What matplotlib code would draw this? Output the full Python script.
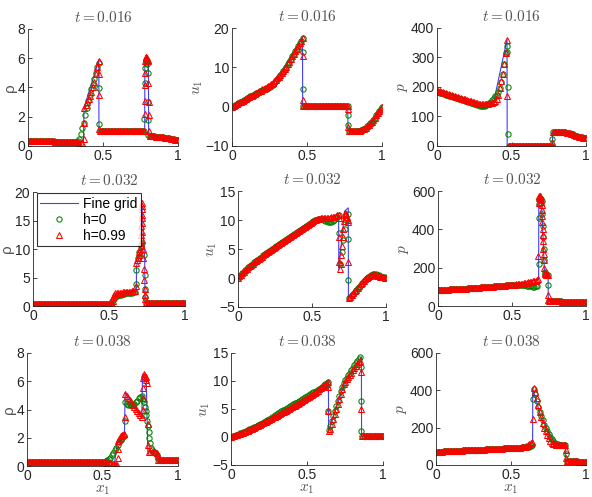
import numpy as np
import matplotlib
matplotlib.use("Agg")
import matplotlib.pyplot as plt

plt.rcParams['font.family'] = ['Liberation Sans', 'DejaVu Sans']
plt.rcParams['mathtext.fontset'] = 'cm'

# each marker series: list of (x_start, x_end, values) -> values evenly spaced in [x_start, x_end]
# fine grid: breakpoints of the reference solution

# ---------------- rho, t = 0.016 ----------------
rho1_fine_x = [0, 0.33, 0.37, 0.373, 0.47, 0.472, 0.473, 0.778, 0.779, 0.803, 0.804, 0.87, 1.0]
rho1_fine_y = [0.34, 0.28, 0.25, 2.6, 5.8, 5.9, 1.0, 1.0, 6.0, 6.0, 0.65, 0.62, 0.4]
rho1_h0 = [
    (0.00, 0.32, [0.34, 0.34, 0.34, 0.34, 0.34, 0.33, 0.33, 0.33, 0.33, 0.33, 0.32, 0.32, 0.32, 0.32, 0.31, 0.31,
                  0.31, 0.31, 0.30, 0.30, 0.30, 0.30, 0.29, 0.29, 0.29, 0.29, 0.28, 0.28, 0.28, 0.28, 0.28, 0.28, 0.29]),
    (0.33, 0.47, [0.35, 0.5, 0.8, 1.2, 1.6, 2.1, 2.6, 3.1, 3.5, 3.9, 4.2, 4.6, 5.0, 5.4, 5.7]),
    (0.474, 0.476, [3.95, 1.5]),
    (0.48, 0.77, [1.0, 1.0, 1.0, 1.0, 1.0, 1.0, 1.0, 1.0, 1.0, 1.0, 1.0, 1.0, 1.0, 1.0, 1.0,
                  1.0, 1.0, 1.0, 1.0, 1.0, 1.0, 1.0, 1.0, 1.0, 1.0, 1.0, 1.0, 1.0, 1.0, 1.0]),
    (0.775, 0.779, [1.85, 4.3, 5.3]),
    (0.785, 0.795, [5.7, 5.8, 5.6]),
    (0.800, 0.803, [5.0, 3.0, 1.8, 0.75]),
    (0.81, 1.00, [0.65, 0.65, 0.65, 0.65, 0.64, 0.64, 0.63, 0.62, 0.61, 0.60, 0.58, 0.56, 0.54, 0.52,
                  0.50, 0.48, 0.46, 0.44, 0.42, 0.40]),
]
rho1_h99 = [
    (0.00, 0.36, [0.34, 0.34, 0.34, 0.34, 0.34, 0.33, 0.33, 0.33, 0.33, 0.33, 0.32, 0.32, 0.32, 0.32, 0.31, 0.31,
                  0.31, 0.31, 0.30, 0.30, 0.30, 0.30, 0.29, 0.29, 0.29, 0.29, 0.28, 0.28, 0.28, 0.28, 0.27, 0.27,
                  0.26, 0.25, 0.22, 0.20, 0.20]),
    (0.370, 0.372, [0.5, 1.6]),
    (0.375, 0.47, [2.6, 2.8, 3.0, 3.2, 3.4, 3.7, 4.0, 4.4, 4.9, 5.4, 5.8]),
    (0.474, 0.476, [4.9, 3.5, 1.15]),
    (0.48, 0.775, [1.0, 1.0, 1.0, 1.0, 1.0, 1.0, 1.0, 1.0, 1.0, 1.0, 1.0, 1.0, 1.0, 1.0, 1.0,
                   1.0, 1.0, 1.0, 1.0, 1.0, 1.0, 1.0, 1.0, 1.0, 1.0, 1.0, 1.0, 1.0, 1.0, 1.0]),
    (0.777, 0.780, [2.2, 3.1, 4.2, 5.0]),
    (0.782, 0.800, [5.8, 6.0, 6.1, 6.1, 6.0, 5.9, 5.9, 5.8]),
    (0.802, 0.806, [4.3, 3.0, 2.1, 1.0]),
    (0.81, 1.00, [0.65, 0.65, 0.65, 0.65, 0.64, 0.64, 0.63, 0.62, 0.61, 0.60, 0.58, 0.56, 0.54, 0.52,
                  0.50, 0.48, 0.46, 0.44, 0.42, 0.40]),
]

# ---------------- u1, t = 0.016 ----------------
u1_fine_x = [0, 0.2, 0.3, 0.47, 0.471, 0.772, 0.773, 0.85, 0.9, 0.95, 1.0]
u1_fine_y = [0, 4.3, 7.0, 17.6, 0, 0, -6.2, -6.2, -5.2, -3.4, 0]
u1_h0 = [
    (0.00, 0.47, [0, 0.25, 0.5, 0.7, 0.9, 1.1, 1.3, 1.5, 1.7, 1.9, 2.1, 2.35, 2.6, 2.8, 3.0, 3.2, 3.4, 3.6, 3.8,
                  4.0, 4.2, 4.3, 4.5, 4.6, 4.8, 5.0, 5.3, 5.6, 6.1, 6.6, 7.1, 7.6, 8.1, 8.6, 9.1, 9.6, 10.2,
                  10.8, 11.4, 12.1, 12.8, 13.4, 14.1, 14.7, 15.4, 16.1, 16.8, 17.4]),
    (0.471, 0.472, [13.8, 4.6]),
    (0.475, 0.77, [0.05, 0.05, 0.05, 0.05, 0.05, 0.05, 0.05, 0.05, 0.05, 0.05, 0.05, 0.05, 0.05, 0.05, 0.05,
                   0.05, 0.05, 0.05, 0.05, 0.05, 0.05, 0.05, 0.05, 0.05, 0.05, 0.05, 0.05, 0.05, 0.05, 0.05]),
    (0.772, 0.773, [-2.1, -4.6]),
    (0.78, 1.00, [-6.2, -6.2, -6.2, -6.2, -6.2, -6.2, -6.2, -6.1, -6.0, -5.8, -5.6, -5.3, -5.0, -4.6, -4.2,
                  -3.8, -3.3, -2.8, -2.2, -1.6, -1.0, -0.5, -0.1]),
]
u1_h99 = [
    (0.00, 0.47, [0, 0.25, 0.5, 0.7, 0.9, 1.1, 1.3, 1.5, 1.7, 1.9, 2.1, 2.35, 2.6, 2.8, 3.0, 3.2, 3.5, 3.7, 3.9,
                  4.1, 4.4, 4.6, 4.8, 5.0, 5.3, 5.5, 5.8, 6.1, 6.4, 6.8, 7.2, 7.6, 8.1, 8.6, 9.1, 9.6, 10.2,
                  10.8, 11.4, 12.1, 12.8, 13.4, 14.1, 14.7, 15.4, 16.1, 16.8, 17.5]),
    (0.471, 0.472, [12.8, 1.8]),
    (0.475, 0.77, [0.05, 0.05, 0.05, 0.05, 0.05, 0.05, 0.05, 0.05, 0.05, 0.05, 0.05, 0.05, 0.05, 0.05, 0.05,
                   0.05, 0.05, 0.05, 0.05, 0.05, 0.05, 0.05, 0.05, 0.05, 0.05, 0.05, 0.05, 0.05, 0.05, 0.05]),
    (0.772, 0.773, [-0.5, -5.2]),
    (0.78, 1.00, [-6.2, -6.2, -6.2, -6.2, -6.2, -6.2, -6.2, -6.1, -6.0, -5.8, -5.6, -5.3, -5.0, -4.6, -4.2,
                  -3.8, -3.3, -2.8, -2.2, -1.6, -1.0, -0.5, -0.1]),
]

# ---------------- p, t = 0.016 ----------------
p1_fine_x = [0, 0.3, 0.38, 0.47, 0.471, 0.775, 0.776, 0.86, 1.0]
p1_fine_y = [188, 141, 148, 362, 0.5, 0.5, 47, 46, 26]
p1_h0 = [
    (0.00, 0.29, [184, 182, 181, 179, 178, 176, 174, 173, 171, 170, 168, 166, 165, 163, 162, 160, 158, 157, 155,
                  154, 152, 150, 149, 147, 146, 144, 142, 140, 138, 136]),
    (0.30, 0.47, [135, 135, 136, 138, 141, 145, 150, 156, 162, 168, 174, 182, 195, 217, 245, 278, 315, 340]),
    (0.473, 0.474, [320, 200, 40]),
    (0.48, 0.77, [0.5, 0.5, 0.5, 0.5, 0.5, 0.5, 0.5, 0.5, 0.5, 0.5, 0.5, 0.5, 0.5, 0.5, 0.5,
                  0.5, 0.5, 0.5, 0.5, 0.5, 0.5, 0.5, 0.5, 0.5, 0.5, 0.5, 0.5, 0.5, 0.5, 0.5]),
    (0.775, 0.775, [25]),
    (0.78, 1.00, [47, 48, 48, 48, 47, 47, 47, 46, 46, 45, 44, 43, 41, 39, 37, 35, 33, 31, 30, 29, 28, 27, 26]),
]
p1_h99 = [
    (0.00, 0.47, [188, 186, 185, 183, 182, 180, 178, 177, 175, 174, 172, 170, 169, 167, 166, 164, 162, 161, 159,
                  158, 156, 154, 153, 151, 150, 148, 146, 145, 144, 143, 143, 143, 143, 144, 144, 145, 146, 147,
                  149, 152, 160, 172, 195, 220, 245, 278, 315, 358]),
    (0.473, 0.473, [170]),
    (0.48, 0.77, [0.5, 0.5, 0.5, 0.5, 0.5, 0.5, 0.5, 0.5, 0.5, 0.5, 0.5, 0.5, 0.5, 0.5, 0.5,
                  0.5, 0.5, 0.5, 0.5, 0.5, 0.5, 0.5, 0.5, 0.5, 0.5, 0.5, 0.5, 0.5, 0.5, 0.5]),
    (0.775, 0.775, [12]),
    (0.78, 1.00, [47, 48, 48, 48, 47, 47, 47, 46, 46, 45, 44, 43, 41, 39, 37, 35, 33, 31, 30, 29, 28, 27, 26]),
]

# ---------------- rho, t = 0.032 ----------------
rho2_fine_x = [0, 0.53, 0.531, 0.68, 0.681, 0.71, 0.715, 0.735, 0.737, 1.0]
rho2_fine_y = [0.3, 0.3, 2.2, 2.6, 7.0, 10.0, 18.5, 8.0, 0.5, 0.45]
rho2_h0 = [
    (0.00, 0.49, [0.3, 0.3, 0.3, 0.3, 0.3, 0.3, 0.3, 0.3, 0.3, 0.3, 0.3, 0.3, 0.3, 0.3, 0.3, 0.3, 0.3,
                  0.3, 0.3, 0.3, 0.3, 0.3, 0.3, 0.3, 0.3, 0.3, 0.3, 0.3, 0.3, 0.3, 0.3, 0.3, 0.3, 0.3,
                  0.3, 0.3, 0.3, 0.3, 0.3, 0.3, 0.3, 0.3, 0.3, 0.3, 0.3, 0.3, 0.3, 0.3, 0.3, 0.3]),
    (0.50, 0.56, [0.4, 0.6, 0.9, 1.3, 1.6, 1.8, 1.9]),
    (0.57, 0.67, [2.0, 2.0, 2.1, 2.1, 2.2, 2.2, 2.2, 2.3, 2.3, 2.4, 2.5]),
    (0.68, 0.68, [3.8, 6.3]),
    (0.69, 0.73, [8.5, 9.5, 10.5, 11.0, 9.0]),
    (0.737, 0.737, [5.5, 3.0, 1.5]),
    (0.745, 1.00, [0.55, 0.55, 0.55, 0.55, 0.55, 0.55, 0.55, 0.55, 0.55, 0.5, 0.5, 0.5, 0.5,
                   0.5, 0.5, 0.5, 0.5, 0.5, 0.5, 0.5, 0.5, 0.5, 0.45, 0.45, 0.45, 0.45]),
]
rho2_h99 = [
    (0.00, 0.52, [0.3, 0.3, 0.3, 0.3, 0.3, 0.3, 0.3, 0.3, 0.3, 0.3, 0.3, 0.3, 0.3, 0.3, 0.3, 0.3, 0.3, 0.3,
                  0.3, 0.3, 0.3, 0.3, 0.3, 0.3, 0.3, 0.3, 0.3, 0.3, 0.3, 0.3, 0.3, 0.3, 0.3, 0.3, 0.3, 0.3,
                  0.3, 0.3, 0.3, 0.3, 0.3, 0.3, 0.3, 0.3, 0.3, 0.3, 0.3, 0.3, 0.3, 0.3, 0.3, 0.3, 0.3]),
    (0.525, 0.525, [0.8, 1.6]),
    (0.53, 0.67, [2.0, 2.2, 2.3, 2.3, 2.3, 2.3, 2.4, 2.4, 2.4, 2.4, 2.5, 2.5, 2.6, 2.6, 2.7]),
    (0.675, 0.675, [3.5]),
    (0.68, 0.71, [7.5, 8.0, 8.5, 9.0, 9.5, 10.0, 10.5]),
    (0.712, 0.72, [11.0, 12.5, 14.0, 15.5, 17.0, 18.0, 17.5, 16.0, 14.5, 13.0, 11.5]),
    (0.722, 0.74, [10.0, 8.5, 6.5, 4.5, 3.0, 2.0, 1.2]),
    (0.745, 1.00, [0.55, 0.55, 0.55, 0.55, 0.55, 0.55, 0.55, 0.55, 0.55, 0.5, 0.5, 0.5, 0.5,
                   0.5, 0.5, 0.5, 0.5, 0.5, 0.5, 0.5, 0.5, 0.5, 0.45, 0.45, 0.45, 0.45]),
]

# ---------------- u1, t = 0.032 ----------------
u2_fine_x = [0, 0.5, 0.6, 0.68, 0.681, 0.72, 0.745, 0.746, 0.8, 0.9, 1.0]
u2_fine_y = [0, 9.7, 10.35, 10.9, 1.5, 11.5, 12.1, -3.45, -2.0, 0.5, 0]
u2_h0 = [
    (0.00, 0.60, [0, 0.3, 0.6, 0.85, 1.1, 1.35, 1.6, 1.85, 2.05, 2.3, 2.5, 2.7, 2.9, 3.1, 3.3, 3.5, 3.7, 3.9,
                  4.1, 4.3, 4.5, 4.7, 4.85, 5.0, 5.2, 5.35, 5.5, 5.7, 5.85, 6.0, 6.2, 6.4, 6.55, 6.75, 6.9,
                  7.1, 7.3, 7.45, 7.65, 7.8, 8.0, 8.15, 8.3, 8.5, 8.65, 8.8, 9.0, 9.15, 9.3, 9.5, 9.65, 9.8,
                  9.95, 10.05, 10.15, 10.2, 10.2, 10.1, 10.0, 9.9, 9.8]),
    (0.61, 0.68, [9.7, 9.7, 9.7, 9.8, 10.0, 10.3, 10.6, 10.8]),
    (0.683, 0.683, [7.7]),
    (0.69, 0.74, [2.5, 4.5, 6.5, 8.5, 10.0, 11.0]),
    (0.745, 0.745, [6.8, -0.3]),
    (0.75, 1.00, [-3.5, -3.3, -3.0, -2.7, -2.4, -2.1, -1.8, -1.5, -1.2, -0.9, -0.6, -0.3, -0.05, 0.2, 0.4,
                  0.55, 0.65, 0.7, 0.65, 0.55, 0.45, 0.35, 0.25, 0.15, 0.1, 0.05]),
]
u2_h99 = [
    (0.00, 0.68, [0, 0.3, 0.6, 0.85, 1.1, 1.35, 1.6, 1.85, 2.05, 2.3, 2.5, 2.7, 2.9, 3.1, 3.3, 3.5, 3.7, 3.9,
                  4.1, 4.3, 4.5, 4.7, 4.85, 5.0, 5.2, 5.35, 5.5, 5.7, 5.85, 6.0, 6.2, 6.4, 6.55, 6.75, 6.9,
                  7.1, 7.3, 7.45, 7.65, 7.8, 8.0, 8.15, 8.3, 8.5, 8.65, 8.8, 9.0, 9.15, 9.3, 9.5, 9.65, 9.8,
                  9.95, 10.05, 10.15, 10.2, 10.3, 10.3, 10.35, 10.35, 10.35, 10.35, 10.4, 10.45, 10.5, 10.6,
                  10.7, 10.8, 10.9]),
    (0.683, 0.683, [10.3, 7.0, 2.8]),
    (0.688, 0.722, [1.6, 2.5, 4.0, 5.5, 7.0, 8.5, 9.8, 10.8]),
    (0.725, 0.74, [11.2, 11.0, 10.5, 10.0]),
    (0.745, 0.745, [9.7, 2.8]),
    (0.75, 1.00, [-3.4, -3.2, -2.9, -2.6, -2.3, -2.0, -1.7, -1.4, -1.1, -0.8, -0.5, -0.25, 0.0, 0.2, 0.35,
                  0.45, 0.5, 0.5, 0.45, 0.4, 0.3, 0.2, 0.15, 0.1, 0.05, 0.0]),
]

# ---------------- p, t = 0.032 ----------------
p2_fine_x = [0, 0.5, 0.68, 0.681, 0.70, 0.72, 0.744, 0.745, 1.0]
p2_fine_y = [84, 110, 140, 575, 540, 165, 160, 26, 19]
p2_h0 = [
    (0.00, 0.67, [84, 84, 85, 85, 85, 86, 86, 86, 87, 87, 88, 88, 88, 89, 89, 90, 90, 90, 91, 91, 92, 92, 93, 93,
                  94, 95, 95, 96, 96, 97, 97, 98, 98, 99, 99, 100, 101, 101, 102, 102, 103, 104, 104, 105, 105,
                  106, 107, 107, 108, 109, 110, 110, 111, 111, 112, 112, 111, 110, 108, 107, 106, 104, 103, 102,
                  101, 101, 102, 105]),
    (0.68, 0.68, [220, 460, 530]),
    (0.685, 0.70, [560, 565, 560, 550]),
    (0.705, 0.72, [480, 420, 360, 300, 240, 180]),
    (0.725, 0.74, [165, 162, 160]),
    (0.745, 0.745, [110]),
    (0.75, 1.00, [26, 26, 25, 25, 25, 25, 24, 24, 24, 23, 23, 23, 22, 22, 22, 22, 21, 21, 21, 21, 20, 20, 20,
                  20, 19, 19]),
]
p2_h99 = [
    (0.00, 0.67, [84, 84, 85, 85, 85, 86, 86, 86, 87, 87, 88, 88, 88, 89, 89, 90, 90, 90, 91, 91, 92, 92, 93, 93,
                  94, 95, 95, 96, 96, 97, 97, 98, 98, 99, 99, 100, 101, 101, 102, 102, 103, 104, 104, 105, 105,
                  106, 107, 107, 108, 109, 110, 111, 112, 113, 114, 115, 116, 117, 119, 120, 122, 123, 125, 126,
                  128, 130, 132, 136]),
    (0.675, 0.675, [140, 260]),
    (0.68, 0.70, [540, 565, 575, 575, 572, 568, 560, 545, 525]),
    (0.702, 0.72, [500, 470, 440, 400, 370, 340, 300, 270, 240, 200, 170]),
    (0.725, 0.742, [165, 163, 162, 160]),
    (0.745, 0.745, [60, 30]),
    (0.75, 1.00, [26, 26, 25, 25, 25, 25, 24, 24, 24, 23, 23, 23, 22, 22, 22, 22, 21, 21, 21, 21, 20, 20, 20,
                  20, 19, 19]),
]

# ---------------- rho, t = 0.038 ----------------
rho3_fine_x = [0, 0.58, 0.6, 0.645, 0.65, 0.76, 0.765, 0.79, 0.8, 0.865, 0.87, 1.0]
rho3_fine_y = [0.25, 0.25, 1.8, 2.2, 5.2, 3.4, 6.5, 6.0, 1.0, 1.0, 0.4, 0.4]
rho3_h0 = [
    (0.00, 0.50, [0.25, 0.25, 0.25, 0.25, 0.25, 0.25, 0.25, 0.25, 0.25, 0.25, 0.25, 0.25, 0.25, 0.25, 0.25,
                  0.25, 0.25, 0.25, 0.25, 0.25, 0.25, 0.25, 0.25, 0.25, 0.25, 0.25, 0.25, 0.25, 0.25, 0.25,
                  0.25, 0.25, 0.25, 0.25, 0.25, 0.25, 0.25, 0.25, 0.25, 0.25, 0.25, 0.25, 0.25, 0.25, 0.25,
                  0.25, 0.25, 0.25, 0.25, 0.25, 0.25]),
    (0.51, 0.64, [0.3, 0.35, 0.4, 0.5, 0.6, 0.75, 0.9, 1.1, 1.3, 1.5, 1.7, 1.85, 2.0, 2.1]),
    (0.65, 0.65, [3.2, 4.5]),
    (0.66, 0.76, [4.4, 4.3, 4.3, 4.3, 4.3, 4.4, 4.5, 4.6, 4.8, 4.9, 4.95]),
    (0.77, 0.82, [4.7, 4.5, 4.2, 3.9, 3.6, 3.2, 2.8, 2.4, 2.0, 1.6, 1.3]),
    (0.83, 0.86, [1.1, 1.0, 0.95, 0.8]),
    (0.87, 1.00, [0.5, 0.4, 0.4, 0.4, 0.4, 0.4, 0.4, 0.4, 0.4, 0.4, 0.4, 0.4, 0.4, 0.4]),
]
rho3_h99 = [
    (0.00, 0.57, [0.25, 0.25, 0.25, 0.25, 0.25, 0.25, 0.25, 0.25, 0.25, 0.25, 0.25, 0.25, 0.25, 0.25, 0.25,
                  0.25, 0.25, 0.25, 0.25, 0.25, 0.25, 0.25, 0.25, 0.25, 0.25, 0.25, 0.25, 0.25, 0.25, 0.25,
                  0.25, 0.25, 0.25, 0.25, 0.25, 0.25, 0.25, 0.25, 0.25, 0.25, 0.25, 0.25, 0.25, 0.25, 0.25,
                  0.25, 0.25, 0.25, 0.25, 0.25, 0.25, 0.25, 0.25, 0.22, 0.2, 0.18, 0.16, 0.15]),
    (0.575, 0.595, [0.12, 0.08, 0.05, 0.1]),
    (0.60, 0.60, [0.6, 1.2]),
    (0.605, 0.645, [1.8, 1.9, 2.0, 2.1, 2.15, 2.2, 2.2, 2.25, 2.3]),
    (0.65, 0.65, [3.5]),
    (0.652, 0.76, [5.1, 4.95, 4.8, 4.65, 4.5, 4.35, 4.2, 4.05, 3.9, 3.75, 3.6, 3.45]),
    (0.765, 0.765, [4.0, 4.8, 5.5]),
    (0.768, 0.795, [6.2, 6.4, 6.5, 6.4, 6.3, 6.1, 5.9]),
    (0.80, 0.80, [3.0, 1.5]),
    (0.805, 0.86, [1.0, 1.0, 1.0, 1.0, 1.0, 0.95]),
    (0.865, 0.865, [0.7]),
    (0.87, 1.00, [0.4, 0.4, 0.4, 0.4, 0.4, 0.4, 0.4, 0.4, 0.4, 0.4, 0.4, 0.4, 0.4, 0.4]),
]

# ---------------- u1, t = 0.038 ----------------
u3_fine_x = [0, 0.3, 0.5, 0.641, 0.642, 0.75, 0.858, 0.859, 1.0]
u3_fine_y = [0, 4.0, 7.1, 9.8, 1.0, 9.9, 14.3, 0.1, 0]
u3_h0 = [
    (0.00, 0.64, [0, 0.1, 0.2, 0.3, 0.4, 0.55, 0.65, 0.75, 0.85, 0.95, 1.1, 1.2, 1.35, 1.45, 1.6, 1.7, 1.85,
                  2.0, 2.1, 2.25, 2.4, 2.55, 2.7, 2.85, 3.0, 3.15, 3.3, 3.5, 3.65, 3.85, 4.1, 4.25, 4.4, 4.6,
                  4.75, 4.9, 5.05, 5.2, 5.35, 5.5, 5.7, 5.85, 6.0, 6.15, 6.3, 6.5, 6.65, 6.8, 6.95, 7.1, 7.3,
                  7.45, 7.6, 7.8, 7.95, 8.1, 8.3, 8.45, 8.6, 8.8, 9.0, 9.2, 9.4, 9.6, 9.8]),
    (0.641, 0.641, [4.6]),
    (0.645, 0.75, [1.2, 2.0, 2.9, 3.8, 4.7, 5.6, 6.4, 7.3, 8.2, 9.0, 9.7, 10.2]),
    (0.76, 0.85, [10.6, 11.1, 11.5, 12.0, 12.4, 12.8, 13.2, 13.6, 14.0, 14.3]),
    (0.858, 0.858, [12.5, 6.4, 1.0]),
    (0.865, 1.00, [0.1, 0.1, 0.1, 0.1, 0.1, 0.1, 0.1, 0.1, 0.1, 0.1, 0.1, 0.1, 0.1, 0.1]),
]
u3_h99 = [
    (0.00, 0.64, [0, 0.1, 0.2, 0.3, 0.4, 0.5, 0.6, 0.7, 0.8, 0.9, 1.0, 1.1, 1.25, 1.35, 1.5, 1.6, 1.75, 1.9,
                  2.0, 2.15, 2.3, 2.45, 2.6, 2.75, 2.9, 3.05, 3.2, 3.35, 3.5, 3.65, 3.8, 3.95, 4.1, 4.25, 4.4,
                  4.55, 4.7, 4.85, 5.0, 5.15, 5.3, 5.45, 5.6, 5.8, 5.95, 6.1, 6.25, 6.4, 6.6, 6.75, 6.9, 7.1,
                  7.3, 7.45, 7.65, 7.85, 8.05, 8.3, 8.5, 8.7, 8.9, 9.1, 9.35, 9.55, 9.8]),
    (0.641, 0.641, [9.0, 4.6]),
    (0.645, 0.75, [1.0, 1.5, 2.3, 3.2, 4.1, 5.0, 5.9, 6.8, 7.7, 8.6, 9.4, 9.9]),
    (0.76, 0.85, [10.3, 10.7, 11.1, 11.5, 11.9, 12.3, 12.7, 13.1, 13.4, 13.6]),
    (0.858, 0.858, [11.6, 5.0]),
    (0.865, 1.00, [0.1, 0.1, 0.1, 0.1, 0.1, 0.1, 0.1, 0.1, 0.1, 0.1, 0.1, 0.1, 0.1, 0.1]),
]

# ---------------- p, t = 0.038 ----------------
p3_fine_x = [0, 0.6, 0.644, 0.645, 0.7, 0.8, 0.864, 0.865, 1.0]
p3_fine_y = [71, 96, 122, 410, 255, 108, 106, 20, 18]
p3_h0 = [
    (0.00, 0.64, [71, 71, 72, 72, 72, 73, 73, 73, 74, 74, 75, 75, 75, 76, 76, 77, 77, 77, 78, 78, 79, 79, 79, 80,
                  80, 81, 81, 81, 82, 82, 83, 83, 83, 84, 84, 85, 85, 85, 86, 86, 87, 87, 87, 88, 88, 89, 89,
                  89, 90, 90, 91, 91, 91, 92, 92, 93, 93, 94, 94, 95, 95, 96, 98, 101, 108]),
    (0.645, 0.645, [355]),
    (0.65, 0.86, [405, 380, 345, 310, 285, 265, 240, 215, 197, 180, 165, 150, 137, 126, 118, 112, 110, 108,
                  107, 107, 106, 106]),
    (0.865, 0.865, [60]),
    (0.87, 1.00, [20, 20, 19, 19, 19, 19, 19, 19, 18, 18, 18, 18, 18, 18]),
]
p3_h99 = [
    (0.00, 0.64, [71, 71, 72, 72, 72, 73, 73, 73, 74, 74, 75, 75, 75, 76, 76, 77, 77, 77, 78, 78, 79, 79, 79, 80,
                  80, 81, 81, 81, 82, 82, 83, 83, 83, 84, 84, 85, 85, 85, 86, 86, 87, 87, 87, 88, 88, 89, 89,
                  89, 90, 90, 91, 91, 91, 92, 92, 93, 93, 95, 96, 98, 101, 105, 112, 118, 122]),
    (0.645, 0.645, [245]),
    (0.65, 0.86, [410, 390, 360, 320, 285, 255, 225, 200, 180, 160, 145, 130, 120, 112, 110, 108, 108, 107,
                  107, 106, 106, 106]),
    (0.865, 0.865, [80, 35]),
    (0.87, 1.00, [20, 20, 19, 19, 19, 19, 19, 19, 18, 18, 18, 18, 18, 18]),
]

titles = ['$t = 0.016$', '$t = 0.016$', '$t = 0.016$',
          '$t = 0.032$', '$t = 0.032$', '$t = 0.032$',
          '$t = 0.038$', '$t = 0.038$', '$t = 0.038$']
ylabels = ['ρ', '$u_1$', '$p$'] * 3
yticks = [[0, 2, 4, 6, 8], [-10, 0, 10, 20], [0, 100, 200, 300, 400],
          [0, 5, 10, 15, 20], [-5, 0, 5, 10, 15], [0, 200, 400, 600],
          [0, 2, 4, 6, 8], [-5, 0, 5, 10, 15], [0, 200, 400, 600]]
series = [
    (rho1_fine_x, rho1_fine_y, rho1_h0, rho1_h99),
    (u1_fine_x, u1_fine_y, u1_h0, u1_h99),
    (p1_fine_x, p1_fine_y, p1_h0, p1_h99),
    (rho2_fine_x, rho2_fine_y, rho2_h0, rho2_h99),
    (u2_fine_x, u2_fine_y, u2_h0, u2_h99),
    (p2_fine_x, p2_fine_y, p2_h0, p2_h99),
    (rho3_fine_x, rho3_fine_y, rho3_h0, rho3_h99),
    (u3_fine_x, u3_fine_y, u3_h0, u3_h99),
    (p3_fine_x, p3_fine_y, p3_h0, p3_h99),
]

# axes boxes in pixels: left, right, top, bottom
W, H = 592, 497
boxes = [(28, 178, 29, 146), (232, 382, 28, 146), (437, 586, 28, 146),
         (33, 185, 192, 306), (238, 386, 191, 307), (438, 586, 191, 306),
         (27, 178, 353, 466), (231, 383, 353, 465), (436, 586, 353, 465)]


def cells(segs):
    xs, ys = [], []
    for a, b, vals in segs:
        xs += list(np.linspace(a, b, len(vals)))
        ys += list(vals)
    return xs, ys


axis_col = '#262626'
label_col = '#555555'
fine_col = (0.25, 0.25, 1.0)
green = (0, 0.5, 0)

fig = plt.figure(figsize=(W / 100, H / 100), dpi=100)
for i, (fx, fy, h0, h99) in enumerate(series):
    l, r, t, b = boxes[i]
    ax = fig.add_axes([l / W, 1 - b / H, (r - l) / W, (b - t) / H])
    x0, y0 = cells(h0)
    x1, y1 = cells(h99)
    ax.plot(fx, fy, '-', color=fine_col, lw=0.8, label='Fine grid')
    ax.plot(x0, y0, 'o', ls='none', mfc='none', mec=green, ms=3.8, mew=0.75, label='h=0')
    ax.plot(x1, y1, '^', ls='none', mfc='none', mec='r', ms=4.2, mew=0.75, label='h=0.99')
    ax.set_xlim(0, 1)
    ax.set_ylim(yticks[i][0], yticks[i][-1])
    ax.set_xticks([0, 0.5, 1])
    ax.set_xticklabels(['0', '0.5', '1'])
    ax.set_yticks(yticks[i])
    ax.spines['top'].set_visible(False)
    ax.spines['right'].set_visible(False)
    for s in ['left', 'bottom']:
        ax.spines[s].set_color(axis_col)
        ax.spines[s].set_linewidth(0.6)
    ax.tick_params(direction='in', length=3, width=0.6, color=axis_col, labelcolor=axis_col,
                   labelsize=10, pad=2)
    ax.set_title(titles[i], fontsize=11, color=label_col, pad=5)
    ax.set_ylabel(ylabels[i], fontsize=11, color=label_col, labelpad=0.5)
    if i >= 6:
        ax.set_xlabel('$x_1$', fontsize=11, color=label_col, labelpad=0)
    if i == 3:
        leg = ax.legend(loc='upper left', bbox_to_anchor=(0.026, 0.99), fontsize=10, frameon=True,
                        fancybox=False, edgecolor='k', handlelength=2.7, borderpad=0.25,
                        labelspacing=0.15, handletextpad=0.4, borderaxespad=0.0, numpoints=1)
        leg.get_frame().set_linewidth(0.8)

fig.savefig('out.png', dpi=100)
